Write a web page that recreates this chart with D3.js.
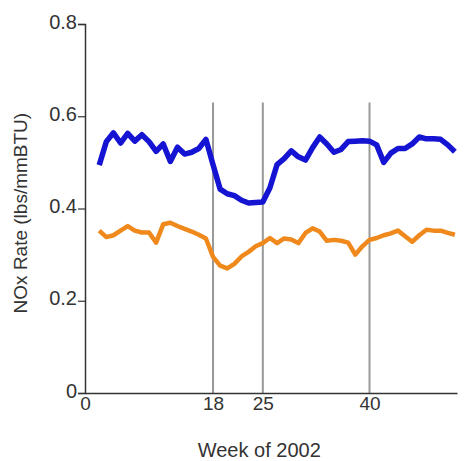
<!DOCTYPE html>
<html>
<head>
    <title>NOx Rate by Week</title>
    <style>
        body { margin: 0; background: #fff; }
        text { font-family: "Liberation Sans", Arial, sans-serif; fill: #333; }
    </style>
    <script src="https://d3js.org/d3.v7.min.js"></script>
</head>
<body>
<div id="chart"></div>
<script>
    // weeks of 2002
    var weeks = d3.range(2, 53);

    // upper series (blue)
    var blueRate = [0.494, 0.545, 0.564, 0.542, 0.563, 0.546, 0.560, 0.545, 0.524, 0.540,
        0.502, 0.533, 0.518, 0.522, 0.530, 0.550, 0.495, 0.442, 0.432, 0.428,
        0.418, 0.412, 0.413, 0.414, 0.445, 0.495, 0.508, 0.525, 0.512, 0.505,
        0.532, 0.555, 0.540, 0.522, 0.528, 0.545, 0.546, 0.547, 0.546, 0.538,
        0.500, 0.520, 0.530, 0.530, 0.540, 0.555, 0.551, 0.551, 0.550, 0.538,
        0.523];

    // lower series (orange)
    var orangeRate = [0.352, 0.338, 0.342, 0.352, 0.362, 0.352, 0.348, 0.348, 0.326, 0.366,
        0.369, 0.362, 0.356, 0.350, 0.343, 0.335, 0.295, 0.276, 0.270, 0.280,
        0.296, 0.306, 0.318, 0.325, 0.336, 0.325, 0.335, 0.333, 0.325, 0.347,
        0.357, 0.350, 0.330, 0.332, 0.330, 0.326, 0.300, 0.318, 0.332, 0.336,
        0.342, 0.346, 0.352, 0.340, 0.328, 0.342, 0.354, 0.352, 0.352, 0.347,
        0.343];

    var markerWeeks = [18, 25, 40];
    var xTicks = [0, 18, 25, 40];
    var yTicks = [0, 0.2, 0.4, 0.6, 0.8];
    var markerTop = 0.63;

    var width = 471, height = 461;
    var margin = { top: 24, right: 14, bottom: 68, left: 85 };

    var svg = d3.select("#chart").append("svg")
        .attr("width", width)
        .attr("height", height);

    var g = svg.append("g")
        .attr("transform", "translate(" + margin.left + "," + margin.top + ")");

    var w = width - margin.left - margin.right;
    var h = height - margin.top - margin.bottom;

    var x = d3.scaleLinear().domain([0, 52.3]).range([0, w]);
    var y = d3.scaleLinear().domain([0, 0.8]).range([h, 0]);

    // marker lines
    g.selectAll(".marker")
        .data(markerWeeks)
        .enter().append("line")
        .attr("x1", function (d) { return x(d); })
        .attr("x2", function (d) { return x(d); })
        .attr("y1", y(markerTop))
        .attr("y2", y(0))
        .attr("stroke", "#999")
        .attr("stroke-width", 2);

    // y axis
    var yAxis = g.append("g")
        .call(d3.axisLeft(y).tickValues(yTicks).tickSize(7).tickPadding(1)
            .tickFormat(function (d) { return d === 0 ? "0" : d3.format(".1f")(d); }));
    yAxis.select(".domain").attr("stroke", "#333").attr("stroke-width", 1.5);
    yAxis.selectAll(".tick line").attr("stroke", "#333").attr("stroke-width", 1.2);
    yAxis.selectAll("text").style("font-size", "20px").attr("fill", "#333").attr("dy", "0.2em");

    // x axis
    var xAxis = g.append("g")
        .attr("transform", "translate(0," + h + ")")
        .call(d3.axisBottom(x).tickValues(xTicks).tickSize(0).tickPadding(4).tickSizeOuter(0));
    xAxis.select(".domain").attr("stroke", "#333").attr("stroke-width", 1.5);
    xAxis.selectAll("text").style("font-size", "19px").attr("fill", "#333");

    var line = d3.line()
        .x(function (d, i) { return x(weeks[i]); })
        .y(function (d) { return y(d); });

    g.append("path")
        .datum(orangeRate)
        .attr("fill", "none")
        .attr("stroke", "#f0891c")
        .attr("stroke-width", 4.5)
        .attr("stroke-linejoin", "round")
        .attr("d", line);

    g.append("path")
        .datum(blueRate)
        .attr("fill", "none")
        .attr("stroke", "#1414d2")
        .attr("stroke-width", 5.5)
        .attr("stroke-linejoin", "round")
        .attr("d", line);

    // axis titles
    svg.append("text")
        .attr("x", margin.left + x(24.5))
        .attr("y", 457)
        .attr("text-anchor", "middle")
        .style("font-size", "20px")
        .text("Week of 2002");

    svg.append("text")
        .attr("transform", "translate(27," + (margin.top + y(0.39)) + ") rotate(-90)")
        .attr("text-anchor", "middle")
        .style("font-size", "19px")
        .text("NOx Rate (lbs/mmBTU)");
</script>
</body>
</html>
